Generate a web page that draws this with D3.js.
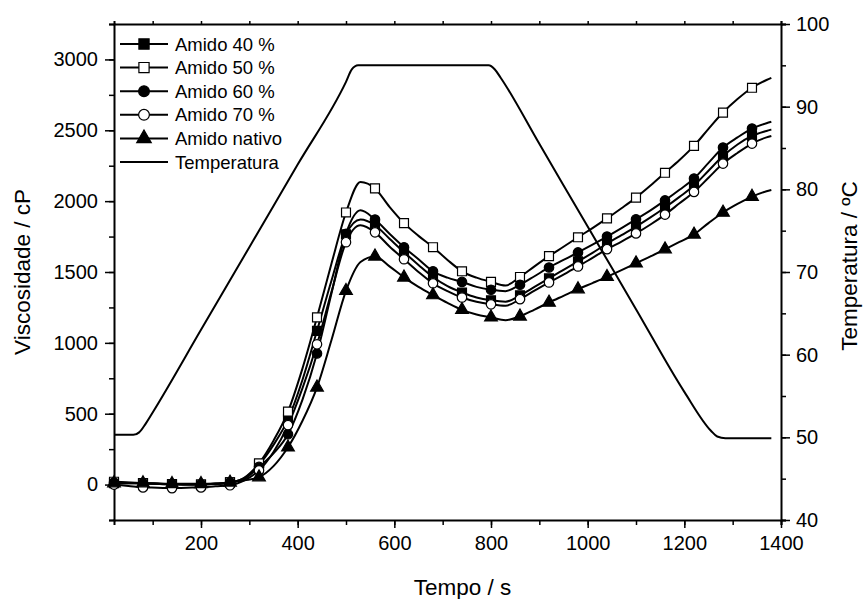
<!DOCTYPE html>
<html>
<head>
<meta charset="utf-8">
<script src="https://cdn.jsdelivr.net/npm/d3@7"></script>
<style>
  body { margin: 0; background: #fff; }
  svg text { font-family: "Liberation Sans", Arial, sans-serif; fill: #000; }
</style>
</head>
<body>
<div id="chart"></div>
<script>
// tempo (s) - pontos das curvas de viscosidade
const time = [20, 50, 80, 110, 140, 170, 200, 230, 260, 290, 320, 350, 380, 410, 440, 470, 500, 530, 560, 590,
  620, 650, 680, 710, 740, 770, 800, 830, 860, 890, 920, 950, 980, 1010, 1040, 1070, 1100, 1130, 1160, 1190,
  1220, 1250, 1280, 1310, 1340, 1370, 1380];

const amido40 = [10, 10, 8, 5, 3, 0, 0, 5, 15, 45, 140, 280, 460, 740, 1085, 1440, 1765, 1870, 1830, 1735,
  1640, 1550, 1465, 1400, 1355, 1320, 1300, 1290, 1335, 1395, 1455, 1515, 1575, 1635, 1700, 1760, 1820, 1885, 1955, 2030,
  2110, 2215, 2318, 2400, 2460, 2495, 2505];

const amido50 = [20, 15, 10, 5, 0, 0, 0, 5, 15, 50, 150, 310, 515, 820, 1180, 1560, 1920, 2135, 2090, 1960,
  1845, 1755, 1675, 1585, 1505, 1460, 1430, 1405, 1465, 1540, 1612, 1678, 1745, 1810, 1878, 1950, 2025, 2110, 2200, 2290,
  2390, 2510, 2625, 2720, 2800, 2855, 2870];

const amido60 = [15, 12, 10, 5, 3, 0, 0, 5, 15, 40, 125, 220, 355, 600, 925, 1350, 1770, 1935, 1870, 1770,
  1675, 1590, 1505, 1460, 1430, 1395, 1375, 1365, 1410, 1470, 1532, 1585, 1638, 1693, 1750, 1810, 1872, 1935, 2005, 2080,
  2160, 2270, 2378, 2450, 2512, 2550, 2560];

const amido70 = [0, -10, -20, -22, -25, -22, -20, -12, -5, 30, 100, 230, 420, 680, 990, 1360, 1710, 1830, 1780, 1680,
  1590, 1500, 1420, 1365, 1320, 1290, 1272, 1262, 1308, 1368, 1426, 1482, 1539, 1600, 1661, 1715, 1772, 1835, 1905, 1985,
  2065, 2165, 2265, 2340, 2406, 2450, 2460];

const amidoNativo = [10, 10, 10, 8, 5, 5, 5, 8, 15, 30, 52, 130, 263, 450, 686, 1020, 1367, 1570, 1610, 1540,
  1462, 1395, 1337, 1282, 1233, 1200, 1180, 1160, 1187, 1235, 1285, 1332, 1379, 1422, 1466, 1513, 1562, 1610, 1661, 1712,
  1765, 1845, 1920, 1980, 2032, 2070, 2079];

// perfil de temperatura
const tempTime = [20, 60, 72, 85, 100, 200, 300, 400, 500, 512, 525, 600, 700, 795, 808, 820, 900, 1000, 1100, 1200, 1255, 1268, 1285, 1380];
const tempValues = [50.3, 50.3, 50.6, 51.6, 53, 63, 73, 83, 93, 94.5, 95, 95, 95, 95, 94.5, 93.5, 85.5, 75.5, 65.5, 55.5, 50.8, 50.1, 49.9, 49.9];

const seriesNames = ["Amido 40 %", "Amido 50 %", "Amido 60 %", "Amido 70 %", "Amido nativo"];
const seriesValues = [amido40, amido50, amido60, amido70, amidoNativo];
const seriesSymbols = [d3.symbolSquare, d3.symbolSquare, d3.symbolCircle, d3.symbolCircle, d3.symbolTriangle];
const seriesFill = ["#000", "#fff", "#000", "#fff", "#000"];
const symbolSize = [80, 80, 70, 70, 70];

const xTicks = [200, 400, 600, 800, 1000, 1200, 1400];
const yTicks = [0, 500, 1000, 1500, 2000, 2500, 3000];
const y2Ticks = [40, 50, 60, 70, 80, 90, 100];

const width = 865, height = 599;
const margin = {left: 114, right: 84, top: 24, bottom: 79};

const svg = d3.select("#chart").append("svg")
  .attr("width", width)
  .attr("height", height);

const x = d3.scaleLinear().domain([20, 1400]).range([margin.left, width - margin.right]);
const y = d3.scaleLinear().domain([-250, 3250]).range([height - margin.bottom, margin.top]);
const y2 = d3.scaleLinear().domain([40, 100]).range([height - margin.bottom, margin.top]);

const x0 = margin.left, x1 = width - margin.right;
const y0 = height - margin.bottom, y1 = margin.top;

// eixos
const axisFont = "20px";
const fmt = d3.format("d");

const bottomAxis = svg.append("g").attr("transform", "translate(0," + y0 + ")");
bottomAxis.call(d3.axisBottom(x).tickValues(d3.range(100, 1401, 100)).tickSize(5).tickFormat(""));
bottomAxis.selectAll(".tick line").attr("stroke-width", 1.5);
const bottomMajor = svg.append("g").attr("transform", "translate(0," + y0 + ")")
  .call(d3.axisBottom(x).tickValues(xTicks).tickSize(8).tickPadding(8).tickFormat(fmt));
bottomMajor.select(".domain").remove();
bottomMajor.selectAll(".tick line").attr("stroke-width", 1.5);
bottomMajor.selectAll("text").style("font-size", axisFont);

const topAxis = svg.append("g").attr("transform", "translate(0," + y1 + ")")
  .call(d3.axisTop(x).tickValues(d3.range(100, 1401, 100)).tickSize(3).tickFormat(""));
topAxis.selectAll(".tick line").attr("stroke-width", 1.5);

const leftAxis = svg.append("g").attr("transform", "translate(" + x0 + ",0)")
  .call(d3.axisLeft(y).tickValues(d3.range(-250, 3251, 250)).tickSize(5).tickFormat(""));
leftAxis.selectAll(".tick line").attr("stroke-width", 1.5);
const leftMajor = svg.append("g").attr("transform", "translate(" + x0 + ",0)")
  .call(d3.axisLeft(y).tickValues(yTicks).tickSize(9).tickPadding(7).tickFormat(fmt));
leftMajor.select(".domain").remove();
leftMajor.selectAll(".tick line").attr("stroke-width", 1.5);
leftMajor.selectAll("text").style("font-size", axisFont);

const rightAxis = svg.append("g").attr("transform", "translate(" + x1 + ",0)")
  .call(d3.axisRight(y2).tickValues(d3.range(40, 101, 5)).tickSize(5).tickFormat(""));
rightAxis.selectAll(".tick line").attr("stroke-width", 1.5);
const rightMajor = svg.append("g").attr("transform", "translate(" + x1 + ",0)")
  .call(d3.axisRight(y2).tickValues(y2Ticks).tickSize(9).tickPadding(6).tickFormat(fmt));
rightMajor.select(".domain").remove();
rightMajor.selectAll(".tick line").attr("stroke-width", 1.5);
rightMajor.selectAll("text").style("font-size", axisFont);

svg.selectAll(".domain").attr("stroke-width", 2);

// titulos dos eixos
svg.append("text")
  .attr("x", (x0 + x1) / 2 + 15)
  .attr("y", 595)
  .attr("text-anchor", "middle")
  .style("font-size", "22.5px")
  .text("Tempo / s");

svg.append("text")
  .attr("transform", "translate(30," + ((y0 + y1) / 2) + ") rotate(-90)")
  .attr("text-anchor", "middle")
  .style("font-size", "22.5px")
  .text("Viscosidade / cP");

svg.append("text")
  .attr("transform", "translate(857," + ((y0 + y1) / 2 - 6) + ") rotate(-90)")
  .attr("text-anchor", "middle")
  .style("font-size", "22.5px")
  .text("Temperatura / ºC");

// curva de temperatura
const tempLine = d3.line()
  .x((d, i) => x(tempTime[i]))
  .y(d => y2(d))
  .curve(d3.curveMonotoneX);

svg.append("path")
  .attr("d", tempLine(tempValues))
  .attr("fill", "none")
  .attr("stroke", "#000")
  .attr("stroke-width", 2);

// curvas de viscosidade
const line = d3.line()
  .x((d, i) => x(time[i]))
  .y(d => y(d))
  .curve(d3.curveMonotoneX);

seriesValues.forEach(function(vals, s) {
  svg.append("path")
    .attr("d", line(vals))
    .attr("fill", "none")
    .attr("stroke", "#000")
    .attr("stroke-width", 2);
});

seriesValues.forEach(function(vals, s) {
  const pts = vals.map((v, i) => ({t: time[i], v: v}))
    .filter(d => (d.t - 20) % 60 === 0 && d.t <= 1340);
  svg.append("g").selectAll("path")
    .data(pts)
    .enter()
    .append("path")
    .attr("transform", d => "translate(" + x(d.t) + "," + y(d.v) + ")")
    .attr("d", d3.symbol().type(seriesSymbols[s]).size(symbolSize[s]))
    .attr("fill", seriesFill[s])
    .attr("stroke", "#000")
    .attr("stroke-width", 1.2);
});

// legenda
const legend = svg.append("g").attr("transform", "translate(120,44)");
const legendNames = seriesNames.concat(["Temperatura"]);

legendNames.forEach(function(name, i) {
  const row = legend.append("g").attr("transform", "translate(0," + (i * 23.6) + ")");
  row.append("line")
    .attr("x1", 0).attr("x2", 48)
    .attr("y1", 0).attr("y2", 0)
    .attr("stroke", "#000")
    .attr("stroke-width", 2);
  if (i < seriesNames.length) {
    row.append("path")
      .attr("transform", "translate(24,0)")
      .attr("d", d3.symbol().type(seriesSymbols[i]).size(symbolSize[i] * 1.3))
      .attr("fill", seriesFill[i])
      .attr("stroke", "#000")
      .attr("stroke-width", 1.2);
  }
  row.append("text")
    .attr("x", 55)
    .attr("y", 6.5)
    .style("font-size", "18.5px")
    .text(name);
});
</script>
</body>
</html>
